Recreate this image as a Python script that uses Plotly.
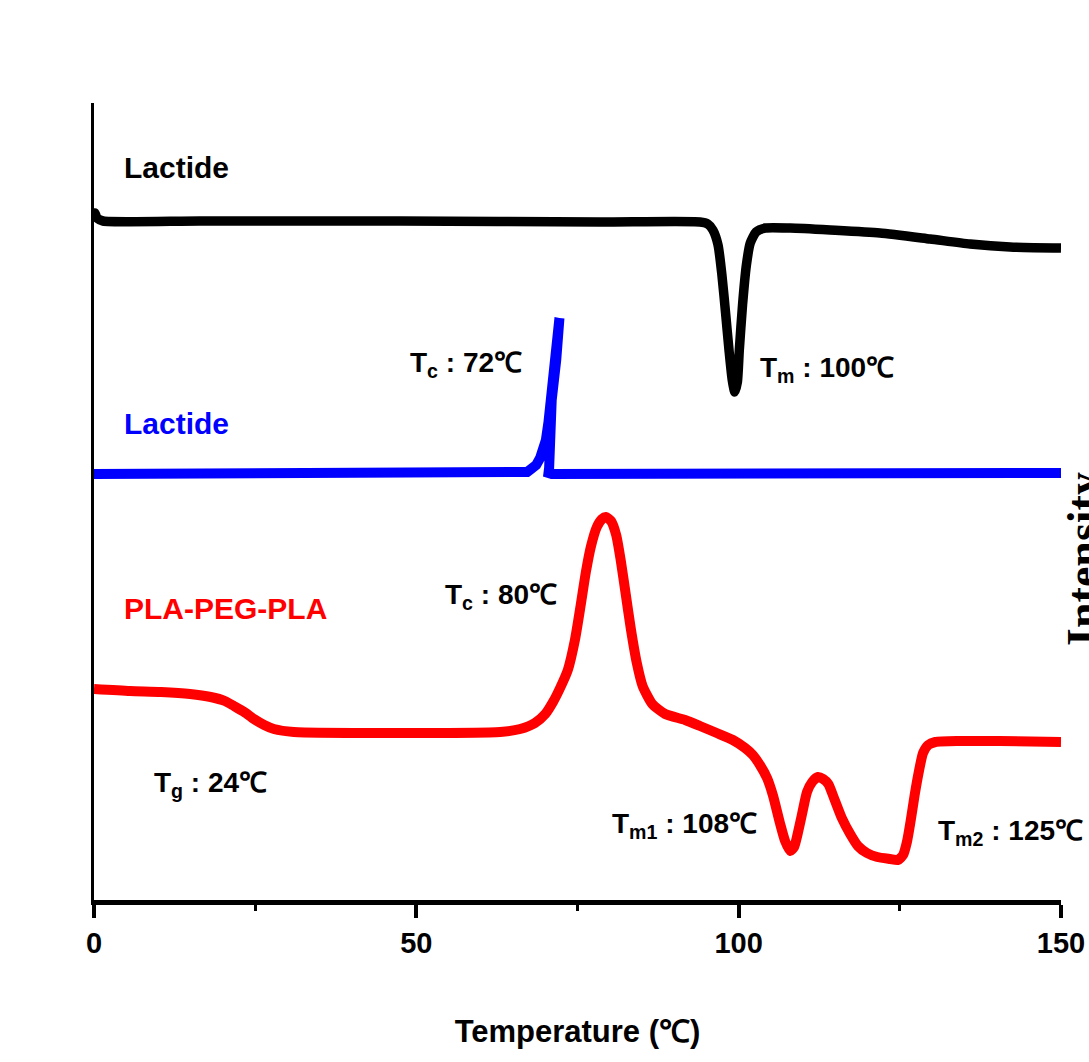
import plotly.graph_objects as go

# DSC traces: temperature (°C) vs. heat-flow intensity (arbitrary units, stacked offsets)
lactide_heat_T = [0.0, 0.15, 0.45, 1.4, 16.4, 47.5, 78.5, 94.0, 95.2, 96.0, 96.8, 97.4, 98.0,
                  98.5, 99.0, 99.4, 99.8, 100.1, 100.6, 101.2, 101.8, 102.7, 104.1, 108.0,
                  114.2, 121.9, 129.7, 135.9, 142.1, 150.0]
lactide_heat_I = [680, 687, 682, 679, 679, 679, 678, 678, 676, 670, 655, 625, 585,
                  550, 520, 508, 518, 550, 595, 635, 657, 668, 672, 672,
                  670, 667, 661, 656, 653, 652]

lactide_cool_T = [0.0, 30.0, 60.0, 66.0, 67.2, 67.8, 68.6, 69.2, 69.7, 70.1, 70.5, 70.9,
                  71.5, 72.0, 72.2, 71.7, 71.0, 70.6, 70.5, 71.0, 80.0, 120.0, 150.0]
lactide_cool_I = [426, 426, 426, 427, 428, 431, 435, 442, 450, 460, 478, 500,
                  550, 578, 582, 540, 500, 432, 427, 426, 426, 427, 427]

copolymer_T = [0.0, 5.6, 10.4, 14.9, 18.1, 20.3, 21.7, 23.3, 24.8, 26.4, 27.9, 31.0, 46.5,
               63.0, 66.1, 68.4, 70.0, 71.2, 72.3, 73.5, 74.6, 75.5, 76.3, 77.1, 78.0,
               78.8, 79.4, 80.2, 81.0, 81.7, 82.5, 83.3, 84.2, 85.1, 86.6, 88.6, 91.7,
               94.0, 96.6, 99.1, 101.0, 102.2, 103.3, 104.4, 105.3, 106.4, 107.2, 108.0,
               108.6, 109.0, 109.8, 110.6, 111.4, 112.3, 113.1, 113.9, 114.9, 116.0,
               117.3, 118.5, 119.9, 121.5, 123.5, 124.7, 125.5, 126.1, 126.7, 127.3,
               128.0, 128.6, 129.4, 130.5, 134.3, 140.5, 150.0]
copolymer_I = [211, 209, 208, 206, 203, 199, 194, 188, 181, 175, 171, 168, 167,
               168, 171, 177, 186, 198, 212, 230, 260, 295, 328, 354, 373,
               381, 383, 379, 365, 340, 305, 270, 237, 214, 196, 186, 180,
               174, 167, 160, 152, 145, 135, 122, 105, 77, 59, 49,
               53, 62, 85, 108, 118, 123, 121, 116, 100, 82,
               66, 54, 47, 43, 41, 40, 45, 58, 80, 105,
               130, 147, 155, 158, 159, 159, 158]

x_ticks = [0, 50, 100, 150]

LABEL_FONT = "Liberation Sans, Arial, sans-serif"

fig = go.Figure()
fig.add_trace(go.Scatter(x=lactide_heat_T, y=lactide_heat_I, mode="lines",
                         line=dict(color="#000000", width=9.5, shape="spline", smoothing=0.6),
                         showlegend=False, hoverinfo="skip"))
fig.add_trace(go.Scatter(x=lactide_cool_T, y=lactide_cool_I, mode="lines",
                         line=dict(color="#0000ff", width=10, shape="linear"),
                         showlegend=False, hoverinfo="skip"))
fig.add_trace(go.Scatter(x=copolymer_T, y=copolymer_I, mode="lines",
                         line=dict(color="#ff0000", width=10, shape="spline", smoothing=0.6),
                         showlegend=False, hoverinfo="skip"))

# sample names: (text, temperature, intensity, colour)
names = [
    ("Lactide", 4.3, 733, "#000000"),
    ("Lactide", 4.3, 477, "#0000ff"),
    ("PLA-PEG-PLA", 4.3, 292, "#ff0000"),
]
# transition temperatures: (text, temperature, intensity)
transitions = [
    ("T<sub>c</sub> : 72℃", 48.7, 536),
    ("T<sub>m</sub> : 100℃", 103.0, 531),
    ("T<sub>c</sub> : 80℃", 54.1, 304),
    ("T<sub>g</sub> : 24℃", 9.0, 116),
    ("T<sub>m1</sub> : 108℃", 80.0, 75),
    ("T<sub>m2</sub> : 125℃", 130.6, 68),
]
for text, tx, ty, col in names:
    fig.add_annotation(x=tx, y=ty, xref="x", yref="y", text=text, showarrow=False,
                       xanchor="left", yanchor="middle",
                       font=dict(family=LABEL_FONT, size=30, color=col, weight="bold"))
for text, tx, ty in transitions:
    fig.add_annotation(x=tx, y=ty, xref="x", yref="y", text=text, showarrow=False,
                       xanchor="left", yanchor="middle",
                       font=dict(family=LABEL_FONT, size=28, color="#000000", weight="bold"))

# y-axis title sits just past the right edge of the figure
fig.add_annotation(x=1.0238, y=0.428, xref="paper", yref="paper", text="Intensity",
                   showarrow=False, textangle=-90, xanchor="center", yanchor="middle",
                   font=dict(family="Liberation Serif, Times New Roman, serif", size=46,
                             color="#000000", weight="bold"))

fig.update_layout(
    width=1089, height=1062,
    margin=dict(l=94, r=28, t=103, b=162, autoexpand=False),
    paper_bgcolor="#ffffff", plot_bgcolor="#ffffff",
    xaxis=dict(range=[0, 150], tickvals=x_ticks, ticktext=[str(v) for v in x_ticks],
               showgrid=False, zeroline=False, showline=True, linecolor="#000000",
               linewidth=5, ticks="outside", ticklen=13, tickwidth=4, tickcolor="#000000",
               ticklabeloverflow="allow", automargin=False,
               minor=dict(dtick=25, tick0=0, ticks="outside", ticklen=6, tickwidth=3,
                          tickcolor="#000000", showgrid=False),
               tickfont=dict(family=LABEL_FONT, size=29, color="#000000", weight="bold"),
               title=dict(text="Temperature (℃)", standoff=64,
                          font=dict(family=LABEL_FONT, size=31, color="#000000", weight="bold"))),
    yaxis=dict(range=[0, 797], showgrid=False, zeroline=False, showline=True,
               linecolor="#000000", linewidth=3, ticks="", showticklabels=False,
               automargin=False),
)

fig.write_html("out.html")
